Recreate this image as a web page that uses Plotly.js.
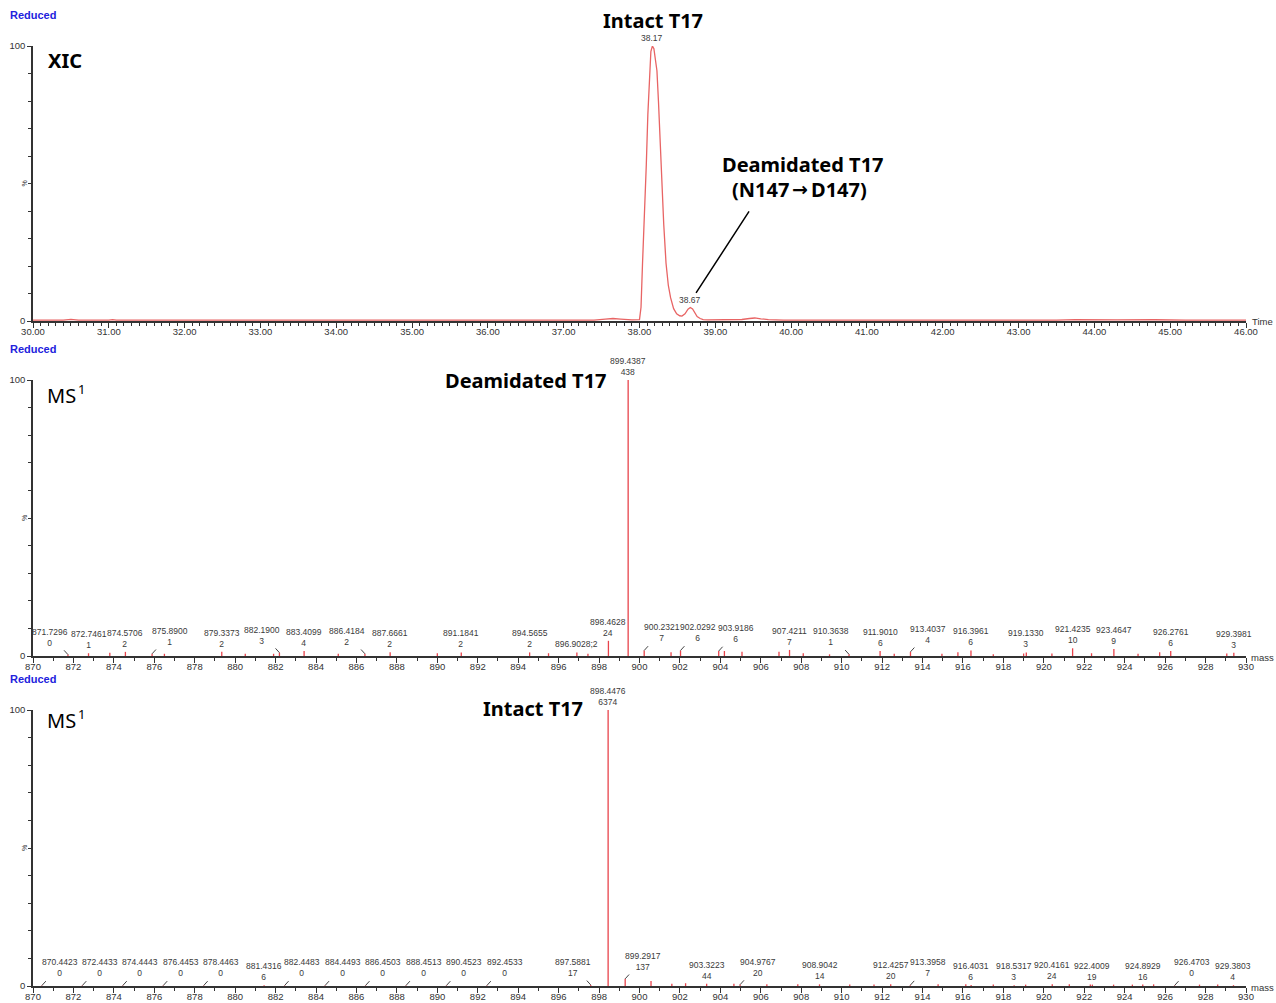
<!DOCTYPE html>
<html><head><meta charset="utf-8">
<script src="https://cdn.plot.ly/plotly-3.0.1.min.js"></script>
<style>html,body{margin:0;padding:0;background:#fff}#chart{width:1276px;height:1003px}</style>
</head><body><div id="chart"></div>
<script>
// ---------- XIC (panel 1) ----------
const xicTime = [30.00, 30.40, 30.50, 30.60, 31.00, 31.05, 31.10, 31.60, 32.40, 32.50,
  32.60, 33.50, 34.50, 35.50, 36.50, 37.40, 37.55, 37.65, 37.75, 37.90,
  38.00, 38.02, 38.04, 38.07, 38.09, 38.11, 38.13, 38.15, 38.17, 38.19,
  38.21, 38.23, 38.25, 38.27, 38.29, 38.32, 38.35, 38.38, 38.41, 38.45,
  38.49, 38.53, 38.56, 38.60, 38.64, 38.67, 38.70, 38.73, 38.76, 38.80,
  38.84, 38.90, 39.00, 39.20, 39.35, 39.45, 39.52, 39.60, 39.70, 39.90,
  40.50, 41.50, 42.50, 43.50, 43.75, 43.85, 43.95, 44.30, 44.80, 45.20,
  46.00];
const xicPct = [0.3, 0.3, 0.6, 0.3, 0.3, 0.5, 0.3, 0.3, 0.3, 0.5,
  0.3, 0.3, 0.3, 0.3, 0.3, 0.35, 0.7, 0.9, 0.7, 0.4,
  0.5, 5, 21, 40, 57, 75, 90, 98, 100, 99,
  95, 91, 80, 65, 51, 35, 21, 13, 8.5, 4.5,
  2.6, 1.9, 1.8, 2.6, 4.3, 4.9, 4.4, 3.0, 1.6, 0.9,
  0.5, 0.4, 0.4, 0.4, 0.55, 0.9, 1.1, 0.8, 0.5, 0.35,
  0.3, 0.3, 0.3, 0.3, 0.5, 0.45, 0.3, 0.4, 0.45, 0.3,
  0.3];
const xicPeakTime = [38.17, 38.67];
const xicPeakPct = [100, 4.9];

// ---------- MS1 deamidated (panel 2) ----------
const deamMz = [871.7296, 872.7461, 874.5706, 875.8900, 879.3373, 882.1900, 883.4099, 886.4184, 887.6661, 891.1841,
  894.5655, 896.9028, 898.4628, 899.4387, 900.2321, 902.0292, 903.9186, 907.4211, 910.3638, 911.9010,
  913.4037, 916.3961, 919.1330, 921.4235, 923.4647, 926.2761, 929.3981];
const deamInt = [0, 1, 2, 1, 2, 3, 4, 2, 2, 2,
  2, 2, 24, 438, 7, 6, 6, 7, 1, 6,
  4, 6, 3, 10, 9, 6, 3];
const deamPct = [0.5, 1.0, 1.5, 0.8, 1.5, 1.2, 1.8, 0.8, 1.4, 1.3,
  1.3, 1.3, 5.5, 100, 2.0, 2.0, 1.8, 2.2, 0.6, 1.8,
  1.5, 2.0, 1.3, 2.8, 2.5, 1.8, 1.2];
const deamSide = [-1, 0, 0, 1, 0, -1, 0, -1, 0, 0,
  0, 0, 0, 0, 1, 1, 1, 0, -1, 0,
  1, 0, 0, 0, 0, 0, 0];
const deamInline = [896.9028];
const deamMinorMz = [873.80, 876.50, 880.50, 881.90, 885.10, 890.00, 895.50, 897.45, 901.56, 904.20,
  905.07, 906.90, 908.10, 909.40, 912.60, 914.96, 915.75, 917.50, 919.00, 920.40,
  922.36, 924.66, 925.73, 929.05];
const deamMinorPct = [1.2, 0.8, 0.8, 0.8, 0.8, 1.0, 1.0, 0.8, 1.4, 1.8,
  1.5, 1.5, 1.0, 0.6, 0.8, 0.8, 1.4, 0.6, 0.9, 0.9,
  1.0, 0.8, 1.4, 0.9];

// ---------- MS1 intact (panel 3) ----------
const intMz = [870.4423, 872.4433, 874.4443, 876.4453, 878.4463, 881.4316, 882.4483, 884.4493, 886.4503, 888.4513,
  890.4523, 892.4533, 897.5881, 898.4476, 899.2917, 903.3223, 904.9767, 908.9042, 912.4257, 913.3958,
  916.4031, 918.5317, 920.4161, 922.4009, 924.8929, 926.4703, 929.3803];
const intInt = [0, 0, 0, 0, 0, 6, 0, 0, 0, 0,
  0, 0, 17, 6374, 137, 44, 20, 14, 20, 7,
  6, 3, 24, 19, 16, 0, 4];
const intPct = [0.2, 0.2, 0.2, 0.2, 0.2, 0.3, 0.2, 0.2, 0.2, 0.2,
  0.2, 0.2, 0.4, 100, 2.6, 0.8, 0.5, 0.6, 0.6, 0.3,
  0.4, 0.3, 0.6, 0.5, 0.5, 0.2, 0.3];
const intSide = [1, 1, 1, 1, 1, 0, 1, 1, 1, 1,
  1, 1, -1, 0, 1, 0, 1, 0, 0, 1,
  0, 0, 0, 0, 0, 1, 0];
const intInline = [];
const intMinorMz = [900.57, 901.60, 902.28, 904.67, 906.30, 907.83, 910.40, 911.60, 914.77, 916.14,
  917.50, 919.10, 921.26, 922.30, 923.45, 924.38, 925.43, 927.70, 928.60];
const intMinorPct = [1.8, 0.8, 1.0, 0.8, 0.6, 0.6, 0.5, 0.5, 0.6, 0.6,
  0.5, 0.5, 0.6, 0.5, 0.5, 0.5, 0.6, 0.5, 0.5];

// ---------- helpers ----------
const W = 1276, H = 1003;
const px = x => x / W, py = y => 1 - y / H;
const RED = '#e8434b';
const LBL = {family: 'Liberation Sans, Arial, sans-serif', size: 8.5, color: '#3a3a3a'};
const BIG = {family: 'Noto Sans, sans-serif', size: 20, color: '#000', weight: 'bold'};
const MSF = {family: 'Noto Sans, sans-serif', size: 20, color: '#000'};
const SUPF = {family: 'Noto Sans, sans-serif', size: 13, color: '#000'};
const ARRF = {family: 'DejaVu Sans, sans-serif', size: 19, color: '#000', weight: 'bold'};

function sticks(mzA, pA, mzB, pB) {
  const x = [], y = [];
  mzA.concat(mzB).forEach((m, i) => {
    const p = i < mzA.length ? pA[i] : pB[i - mzA.length];
    x.push(m, m, null); y.push(0, p, null);
  });
  return {x, y};
}

function peakLabels(mz, inten, pct, side, inline, xa, ya) {
  const out = [];
  mz.forEach((m, i) => {
    const sep = inline.includes(m) ? ';' : '<br>';
    const text = m.toFixed(4) + sep + inten[i];
    const s = side[i];
    if (s === 0) {
      out.push({x: m, y: pct[i], xref: xa, yref: ya, text, showarrow: false,
        xanchor: 'center', yanchor: 'bottom', yshift: 1, font: LBL});
    } else {
      out.push({x: m + s * 0.87, y: pct[i], xref: xa, yref: ya, text, showarrow: false,
        xanchor: 'center', yanchor: 'bottom', yshift: 5, font: LBL});
      out.push({x: m, y: pct[i], xref: xa, yref: ya, text: '', showarrow: true,
        ax: m + s * 0.26, ay: pct[i] + 2.1, axref: xa, ayref: ya,
        arrowhead: 0, arrowwidth: 1, arrowcolor: '#444', standoff: 0, startstandoff: 0});
    }
  });
  return out;
}

const s2 = sticks(deamMz, deamPct, deamMinorMz, deamMinorPct);
const s3 = sticks(intMz, intPct, intMinorMz, intMinorPct);

const traces = [
  {x: xicTime, y: xicPct, type: 'scatter', mode: 'lines', xaxis: 'x', yaxis: 'y',
   line: {color: '#e86464', width: 1.3}, hoverinfo: 'skip'},
  {x: s2.x, y: s2.y, type: 'scatter', mode: 'lines', xaxis: 'x2', yaxis: 'y2',
   line: {color: RED, width: 1.3}, connectgaps: false, hoverinfo: 'skip'},
  {x: s3.x, y: s3.y, type: 'scatter', mode: 'lines', xaxis: 'x3', yaxis: 'y3',
   line: {color: RED, width: 1.3}, connectgaps: false, hoverinfo: 'skip'}
];

const XD = [px(33), px(1246)];
const tickFont = {family: 'Liberation Sans, Arial, sans-serif', size: 9.5, color: '#333'};
function xAxis(range, dtick, minorDt, fmt, anchor) {
  return {domain: XD, range, anchor, showgrid: false, zeroline: false, showline: true,
    linecolor: '#333', linewidth: 1.5, ticks: 'outside', ticklen: 5, tickcolor: '#333', tickwidth: 1,
    tick0: range[0], dtick, tickformat: fmt, tickfont: tickFont, ticklabelstandoff: -4,
    minor: {dtick: minorDt, tick0: range[0], ticks: 'outside', ticklen: 3, tickcolor: '#333', tickwidth: 1, showgrid: false}};
}
function yAxis(dom, anchor) {
  return {domain: dom, range: [0, 100], anchor, showgrid: false, zeroline: false, showline: true,
    linecolor: '#333', linewidth: 1.8, ticks: 'outside', ticklen: 4, tickcolor: '#333', tickwidth: 1,
    tick0: 0, dtick: 100, tickfont: tickFont,
    minor: {dtick: 10, tick0: 0, ticks: 'outside', ticklen: 3, tickcolor: '#333', tickwidth: 1, showgrid: false}};
}

const ann = [];
function paperText(x, y, text, font, xanchor) {
  ann.push({x: px(x), y: py(y), xref: 'paper', yref: 'paper', text, showarrow: false,
    xanchor: xanchor || 'center', yanchor: 'middle', font});
}
// Reduced labels
[15, 349, 679].forEach(y => paperText(8, y, 'Reduced',
  {family: 'Liberation Sans, Arial, sans-serif', size: 11, color: '#2222dd', weight: 'bold'}, 'left'));
// % labels
['y', 'y2', 'y3'].forEach(ya => ann.push({x: px(24), y: 50, xref: 'paper', yref: ya, text: '%',
  showarrow: false, xanchor: 'center', yanchor: 'middle', textangle: -90,
  font: {family: 'Liberation Sans, Arial, sans-serif', size: 7, color: '#333'}}));
// axis end labels
paperText(1262, 322, 'Time', tickFont);
paperText(1262, 657, 'mass', tickFont);
paperText(1262, 987, 'mass', tickFont);
// big texts
paperText(653, 20, 'Intact T17', BIG);
paperText(46, 60, 'XIC', BIG, 'left');
paperText(803, 164, 'Deamidated T17', BIG);
paperText(791, 189, '(N147', BIG, 'right');
paperText(800, 189, '→', ARRF);
paperText(809, 189, 'D147)', BIG, 'left');
paperText(526, 381, 'Deamidated T17', BIG);
paperText(45, 395, 'MS', MSF, 'left');
paperText(76, 389, '1', SUPF, 'left');
paperText(533, 708, 'Intact T17', BIG);
paperText(45, 720, 'MS', MSF, 'left');
paperText(76, 714, '1', SUPF, 'left');
// XIC peak labels
xicPeakTime.forEach((t, i) => ann.push({x: t, y: xicPeakPct[i], xref: 'x', yref: 'y', text: t.toFixed(2),
  showarrow: false, xanchor: 'center', yanchor: 'bottom', yshift: 1, font: LBL}));
// pointer line for deamidated peak
ann.push({x: 38.746, y: 10.2, xref: 'x', yref: 'y', text: '', showarrow: true,
  ax: 39.458, ay: 40.4, axref: 'x', ayref: 'y', arrowhead: 0, arrowwidth: 1.5, arrowcolor: '#000', standoff: 0});
// spectrum labels
peakLabels(deamMz, deamInt, deamPct, deamSide, deamInline, 'x2', 'y2').forEach(a => ann.push(a));
peakLabels(intMz, intInt, intPct, intSide, intInline, 'x3', 'y3').forEach(a => ann.push(a));

const layout = {
  width: W, height: H, margin: {l: 0, r: 0, t: 0, b: 0},
  paper_bgcolor: '#fff', plot_bgcolor: '#fff', showlegend: false,
  xaxis: xAxis([30, 46], 1, 0.1, '.2f', 'y'),
  yaxis: yAxis([py(321), py(46)], 'x'),
  xaxis2: xAxis([870, 930], 2, 1, 'd', 'y2'),
  yaxis2: yAxis([py(656), py(380)], 'x2'),
  xaxis3: xAxis([870, 930], 2, 1, 'd', 'y3'),
  yaxis3: yAxis([py(986), py(710)], 'x3'),
  annotations: ann
};

Plotly.newPlot('chart', traces, layout, {displayModeBar: false, staticPlot: true});
</script>
</body></html>
